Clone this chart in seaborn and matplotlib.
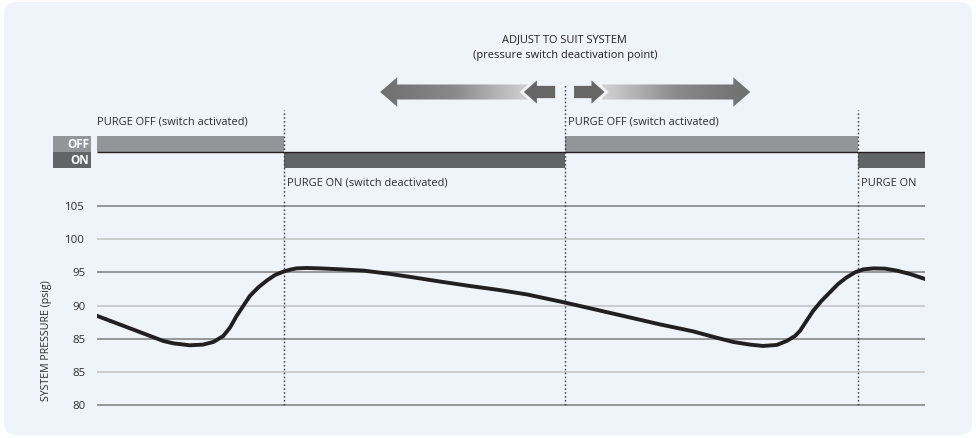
import numpy as np
import matplotlib.pyplot as plt
import seaborn as sns
from matplotlib.patches import FancyBboxPatch, Polygon
from matplotlib.colors import LinearSegmentedColormap
from matplotlib.transforms import IdentityTransform

# pressure trace, time in arbitrary units (0-100), pressure in psig
time = [0.0, 4.0, 8.0, 9.2, 11.2, 12.8, 14.05, 15.25, 16.06, 16.87, 17.67, 18.48,
        19.48, 20.49, 21.5, 22.5, 23.3, 24.1, 25.3, 26.9, 29.5, 32.2, 35.2, 38.2,
        41.5, 45.0, 48.5, 52.0, 56.5, 60.0, 64.0, 68.0, 72.0, 74.8, 76.85, 78.86,
        80.47, 82.09, 83.3, 84.3, 84.9, 85.7, 86.5, 87.5, 88.5, 89.5, 90.54, 91.55,
        92.55, 93.76, 95.17, 96.58, 98.2, 100.0]
pressure = [88.44, 86.55, 84.65, 84.3, 84.0, 84.1, 84.5, 85.4, 86.67, 88.44, 89.95, 91.47,
            92.73, 93.74, 94.6, 95.1, 95.4, 95.6, 95.66, 95.6, 95.45, 95.26, 94.8, 94.24,
            93.6, 92.95, 92.35, 91.65, 90.45, 89.45, 88.3, 87.15, 86.1, 85.15, 84.5, 84.1,
            83.9, 84.05, 84.65, 85.4, 86.17, 87.7, 89.2, 90.7, 91.97, 93.24, 94.24, 95.0,
            95.45, 95.6, 95.56, 95.26, 94.75, 94.0]

# gridlines and the labels printed next to them (original prints 85 twice)
grid_values = [105, 100, 95, 90, 85, 80, 75]
grid_labels = ["105", "100", "95", "90", "85", "85", "80"]

# purge valve state between switch points
switch_points = [0, 22.6, 56.5, 91.9, 100]
purge_states = ["OFF", "ON", "OFF", "ON"]
state_labels = ["PURGE OFF (switch activated)", "PURGE ON (switch deactivated)",
                "PURGE OFF (switch activated)", "PURGE ON"]

# range the deactivation point can be moved over
adjust_range = [34.2, 78.9]

sns.set_theme(style="white")
plt.rcParams["font.family"] = ["Open Sans", "DejaVu Sans"]

BG = "#eff4fb"
OFF_C = "#939598"
ON_C = "#636466"
TXT = "#2b2b2b"
FS = 7.9
W, H = 976, 438

fig = plt.figure(figsize=(W / 100, H / 100), dpi=100)
fig.patch.set_facecolor("white")
fig.add_artist(FancyBboxPatch((4, 3), 968, 433, boxstyle="round,pad=0,rounding_size=12",
                              transform=IdentityTransform(), facecolor=BG,
                              edgecolor="none", zorder=0))


def fig_rect(left, top, right, bottom):
    return [left / W, 1 - bottom / H, (right - left) / W, (bottom - top) / H]


# --- pressure chart
ax = fig.add_axes(fig_rect(97, 199.4, 925, 411.6))
ax.set_facecolor("none")
for i, v in enumerate(grid_values):
    ax.axhline(v, color="#7d7d7d" if i % 2 == 0 else "#c2c2c2", lw=1.1, zorder=1)
ax.vlines(switch_points[1:-1], 75, 106, colors="#444444", lw=1.0,
          linestyles=(0, (1.2, 1.6)), zorder=2)
sns.lineplot(x=time, y=pressure, ax=ax, color="#231f20", lw=2.8, zorder=3,
             solid_capstyle="round", solid_joinstyle="round")
ax.set_xlim(0, 100)
ax.set_ylim(74, 106)
ax.set_xticks([])
ax.set_yticks(grid_values, grid_labels)
ax.tick_params(axis="y", length=0, pad=8.5, labelsize=8.2, labelcolor=TXT)
ax.set_xlabel("")
ax.set_ylabel("SYSTEM PRESSURE (psig)", fontsize=7.7, color=TXT)
ax.yaxis.set_label_coords(-0.0543, 0.337)
sns.despine(ax=ax, left=True, bottom=True)

# --- purge state strip and adjustment arrows
top = fig.add_axes(fig_rect(97, 0, 925, 199.4))
top.axis("off")

levels = {"OFF": 1, "ON": 0}
colors = {"OFF": OFF_C, "ON": ON_C}
for i, st in enumerate(purge_states):
    x0, x1 = switch_points[i], switch_points[i + 1]
    top.bar(x0, 1, width=x1 - x0, bottom=levels[st], align="edge",
            color=colors[st], linewidth=0, zorder=2)
    ly = 2.9 if st == "OFF" else -0.94
    top.text(x0 + (0 if i == 0 else 0.4), ly, state_labels[i], ha="left", va="center",
             fontsize=FS, color=TXT)
top.hlines(1, 0, 100, colors="#231f20", lw=1.0, zorder=3)

# legend boxes on the left
for st in ["OFF", "ON"]:
    top.bar(-5.3, 1, width=4.6, bottom=levels[st], align="edge", color=colors[st],
            linewidth=0, clip_on=False)
    top.text(-0.95, levels[st] + 0.45, st, ha="right", va="center", color="white",
             fontsize=8.5, fontweight="bold", clip_on=False)

mid = switch_points[2]
top.vlines([switch_points[1], switch_points[3]], -1.97, 3.62, colors="#444444", lw=1.0,
           linestyles=(0, (1.2, 1.6)))
top.vlines(mid, -1.97, 5.2, colors="#444444", lw=1.0, linestyles=(0, (1.2, 1.6)))

top.text(mid, 8.0, "ADJUST TO SUIT SYSTEM", ha="center", va="center", fontsize=FS,
         color="#231f20")
top.text(mid, 7.06, "(pressure switch deactivation point)", ha="center", va="center",
         fontsize=FS, color="#231f20")

AY = 4.75


def arrow_pts(x_tail, x_tip, y=AY, body=0.47, head=0.92, head_len=2.05):
    d = np.sign(x_tip - x_tail)
    xb = x_tip - d * head_len
    return [(x_tail, y - body), (xb, y - body), (xb, y - head), (x_tip, y),
            (xb, y + head), (xb, y + body), (x_tail, y + body)]


cmap = LinearSegmentedColormap.from_list("arr", ["#6e6e6e", "#8a8a8a", "#d4d4d4"])
for x_tail, x_tip in [(mid - 4.2, adjust_range[0]), (mid + 4.5, adjust_range[1])]:
    poly = Polygon(arrow_pts(x_tail, x_tip), closed=True, facecolor="none",
                   edgecolor="none", transform=top.transData)
    top.add_patch(poly)
    grad = np.linspace(0, 1, 256)[None, :]
    if x_tip > x_tail:
        grad = grad[:, ::-1]
    im = top.imshow(grad, extent=[min(x_tail, x_tip), max(x_tail, x_tip), AY - 1, AY + 1],
                    aspect="auto", cmap=cmap, origin="lower", zorder=2,
                    interpolation="bilinear")
    im.set_clip_path(poly)

for x_tail, x_tip in [(mid - 1.0, mid - 5.2), (mid + 0.95, mid + 5.05)]:
    top.add_patch(Polygon(arrow_pts(x_tail, x_tip, head_len=2.0), closed=True,
                          facecolor="#666666", edgecolor=BG, lw=2.0, zorder=4))

top.set_xlim(0, 100)
top.set_ylim(-1.9625, 10.5)

fig.savefig("out.png", dpi=100)
